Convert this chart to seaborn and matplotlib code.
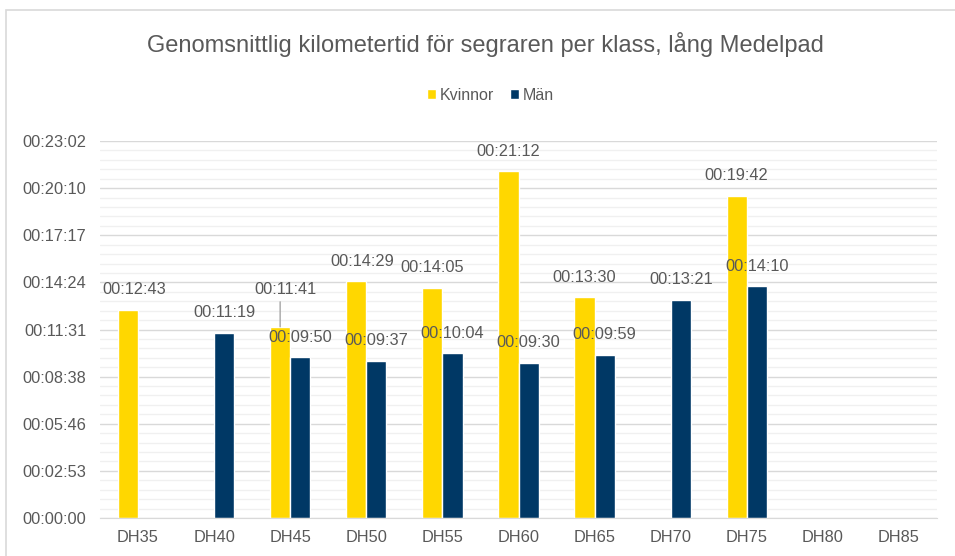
import pandas as pd
import numpy as np
import matplotlib
matplotlib.use('Agg')
import matplotlib.pyplot as plt
import seaborn as sns
from matplotlib.ticker import MultipleLocator, FuncFormatter
from matplotlib.patches import Rectangle

# Data (seconds per km), None = no winner in that class
klasser = ['DH35', 'DH40', 'DH45', 'DH50', 'DH55', 'DH60', 'DH65', 'DH70', 'DH75', 'DH80', 'DH85']
kvinnor = ['00:12:43', None, '00:11:41', '00:14:29', '00:14:05', '00:21:12', '00:13:30', None, '00:19:42', None, None]
man = [None, '00:11:19', '00:09:50', '00:09:37', '00:10:04', '00:09:30', '00:09:59', '00:13:21', '00:14:10', None, None]
serier = ['Kvinnor', 'Män']
farger = ['#FFD700', '#003865']


def to_sec(t):
    if t is None:
        return np.nan
    h, m, s = t.split(':')
    return int(h) * 3600 + int(m) * 60 + int(s)


def fmt_time(v, pos=None):
    v = int(round(v))
    return f"{v // 3600:02d}:{(v % 3600) // 60:02d}:{v % 60:02d}"


df = pd.DataFrame({
    'Klass': klasser * 2,
    'Serie': ['Kvinnor'] * len(klasser) + ['Män'] * len(klasser),
    'Tid': [to_sec(t) for t in kvinnor] + [to_sec(t) for t in man],
})

sns.set_style('white')
plt.rcParams['font.family'] = ['Liberation Sans', 'DejaVu Sans']
grey_txt = '#595959'

fig = plt.figure(figsize=(9.55, 5.56), dpi=100)
ax = fig.add_axes([100 / 955, 1 - 518 / 556, 837 / 955, 377 / 556])

sns.barplot(data=df, x='Klass', y='Tid', hue='Serie', order=klasser, hue_order=serier,
            palette=farger, width=0.53, errorbar=None, saturation=1, ax=ax)

# y axis in time steps like the original (0.002 day = 172.8 s)
step = 172.8
ax.set_ylim(0, step * 8)
ax.yaxis.set_major_locator(MultipleLocator(step))
ax.yaxis.set_minor_locator(MultipleLocator(step / 5))
ax.yaxis.set_major_formatter(FuncFormatter(fmt_time))
ax.grid(which='major', axis='y', color='#D9D9D9', lw=1)
ax.grid(which='minor', axis='y', color='#F0F0F0', lw=1)
ax.set_axisbelow(True)
for s in ['top', 'right', 'left']:
    ax.spines[s].set_visible(False)
ax.spines['bottom'].set_color('#D9D9D9')
ax.tick_params(axis='both', which='both', length=0, labelsize=11.8, colors=grey_txt)
ax.tick_params(axis='y', pad=10)
ax.tick_params(axis='x', pad=9)
ax.set_xlabel('')
ax.set_ylabel('')

# data labels
for ci, cont in enumerate(ax.containers):
    for bar in cont:
        h = bar.get_height()
        if np.isnan(h) or h == 0:
            continue
        xc = bar.get_x() + bar.get_width() / 2
        klass = klasser[int(round(bar.get_x() + bar.get_width()))] if ci == 0 else klasser[int(round(bar.get_x()))]
        dx, dy = 0, 20
        if serier[ci] == 'Kvinnor' and klass == 'DH45':
            dx, dy = 5, 37
            ax.annotate('', xy=(xc, h), xytext=(0, 25), textcoords='offset pixels',
                        arrowprops=dict(arrowstyle='-', color='#A6A6A6', lw=1,
                                        shrinkA=0, shrinkB=0))
        elif serier[ci] == 'Kvinnor' and klass in ('DH35', 'DH50'):
            dx = 6
        ax.annotate(fmt_time(h), xy=(xc, h), xytext=(dx, dy), textcoords='offset pixels',
                    ha='center', va='center', fontsize=11.8, color=grey_txt)

sns.move_legend(ax, 'center', bbox_to_anchor=(490 / 955, 1 - 95 / 556), bbox_transform=fig.transFigure,
                ncol=2, frameon=False, title=None, fontsize=11.5, handlelength=0.6, handleheight=0.6,
                handletextpad=0.2, columnspacing=1.0)
for t in ax.get_legend().get_texts():
    t.set_color(grey_txt)

fig.text(485 / 955, 1 - 45 / 556, 'Genomsnittlig kilometertid för segraren per klass, lång Medelpad',
         ha='center', va='center', fontsize=17, color=grey_txt)

fig.patches.append(Rectangle((6 / 955, -0.05), 1.0, 1 - 10 / 556 + 0.05, transform=fig.transFigure,
                             fill=False, edgecolor='#D9D9D9', lw=1.2))

fig.savefig('out.png', dpi=100)
